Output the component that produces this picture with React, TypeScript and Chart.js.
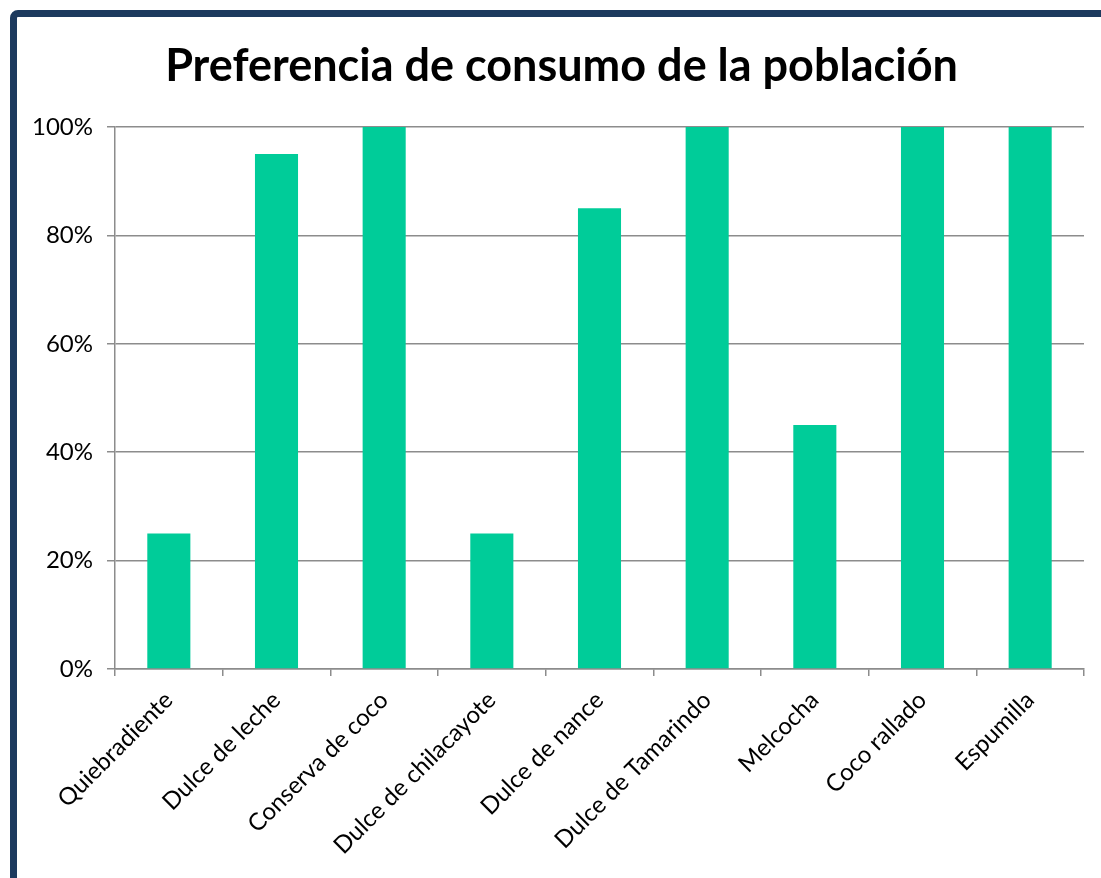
import React, { useEffect, useRef } from "react";
import { Chart, registerables } from "chart.js";

Chart.register(...registerables);

const categories = [
  "Quiebradiente",
  "Dulce de leche",
  "Conserva de coco",
  "Dulce de chilacayote",
  "Dulce de nance",
  "Dulce de Tamarindo",
  "Melcocha",
  "Coco rallado",
  "Espumilla",
];
const preferencia = [25, 95, 100, 25, 85, 100, 45, 100, 100];
const titleText = "Preferencia de consumo de la población";

const FONT = "Lato, 'Liberation Sans', sans-serif";

const titleShift = {
  id: "titleShift",
  afterLayout(chart: any) {
    const t = chart.titleBlock;
    if (t) {
      t.left += 11;
      t.right += 11;
    }
  },
};

export default function App() {
  const ref = useRef<HTMLCanvasElement | null>(null);

  useEffect(() => {
    if (!ref.current) return;
    const chart = new Chart(ref.current, {
      type: "bar",
      data: {
        labels: categories,
        datasets: [
          {
            label: "Preferencia",
            data: preferencia,
            backgroundColor: "#00CC99",
            borderWidth: 0,
            categoryPercentage: 1,
            barPercentage: 0.4,
          },
        ],
      },
      plugins: [titleShift],
      options: {
        animation: false,
        responsive: true,
        maintainAspectRatio: false,
        layout: { padding: { left: 0, right: 17, top: 0, bottom: 0 } },
        plugins: {
          legend: { display: false },
          tooltip: { enabled: false },
          title: {
            display: true,
            text: titleText,
            color: "#000000",
            font: { family: FONT, size: 45, weight: "bold" },
            padding: { top: 22, bottom: 34 },
          },
        },
        scales: {
          x: {
            grid: {
              display: true,
              drawOnChartArea: false,
              drawTicks: true,
              tickLength: 7,
              color: "#8C8C8C",
              lineWidth: 1.5,
            },
            border: { display: true, color: "#8C8C8C", width: 1.5 },
            ticks: {
              color: "#000000",
              font: { family: FONT, size: 24 },
              minRotation: 45,
              maxRotation: 45,
              padding: 10,
              autoSkip: false,
            },
            afterFit: (scale: any) => {
              scale.height = 209;
            },
          },
          y: {
            min: 0,
            max: 100,
            ticks: {
              stepSize: 20,
              color: "#000000",
              font: { family: FONT, size: 24 },
              padding: 14,
              callback: (v: any) => v + "%",
            },
            grid: {
              color: "#8C8C8C",
              lineWidth: 1.5,
              tickLength: 8,
            },
            border: { display: true, color: "#8C8C8C", width: 1.5 },
            afterFit: (scale: any) => {
              scale.width = 98;
            },
          },
        },
      },
    });
    return () => chart.destroy();
  }, []);

  return (
    <div
      style={{
        position: "fixed",
        left: 0,
        top: 0,
        width: 1101,
        height: 878,
        overflow: "hidden",
        background: "#ffffff",
      }}
    >
      <div
        style={{
          position: "absolute",
          left: 10,
          top: 10,
          width: 1200,
          height: 1000,
          border: "7px solid #1D3A5E",
          borderRadius: 8,
          boxSizing: "border-box",
        }}
      />
      <div
        style={{
          position: "absolute",
          left: 17,
          top: 17,
          width: 1084,
          height: 861,
        }}
      >
        <canvas ref={ref} />
      </div>
    </div>
  );
}
